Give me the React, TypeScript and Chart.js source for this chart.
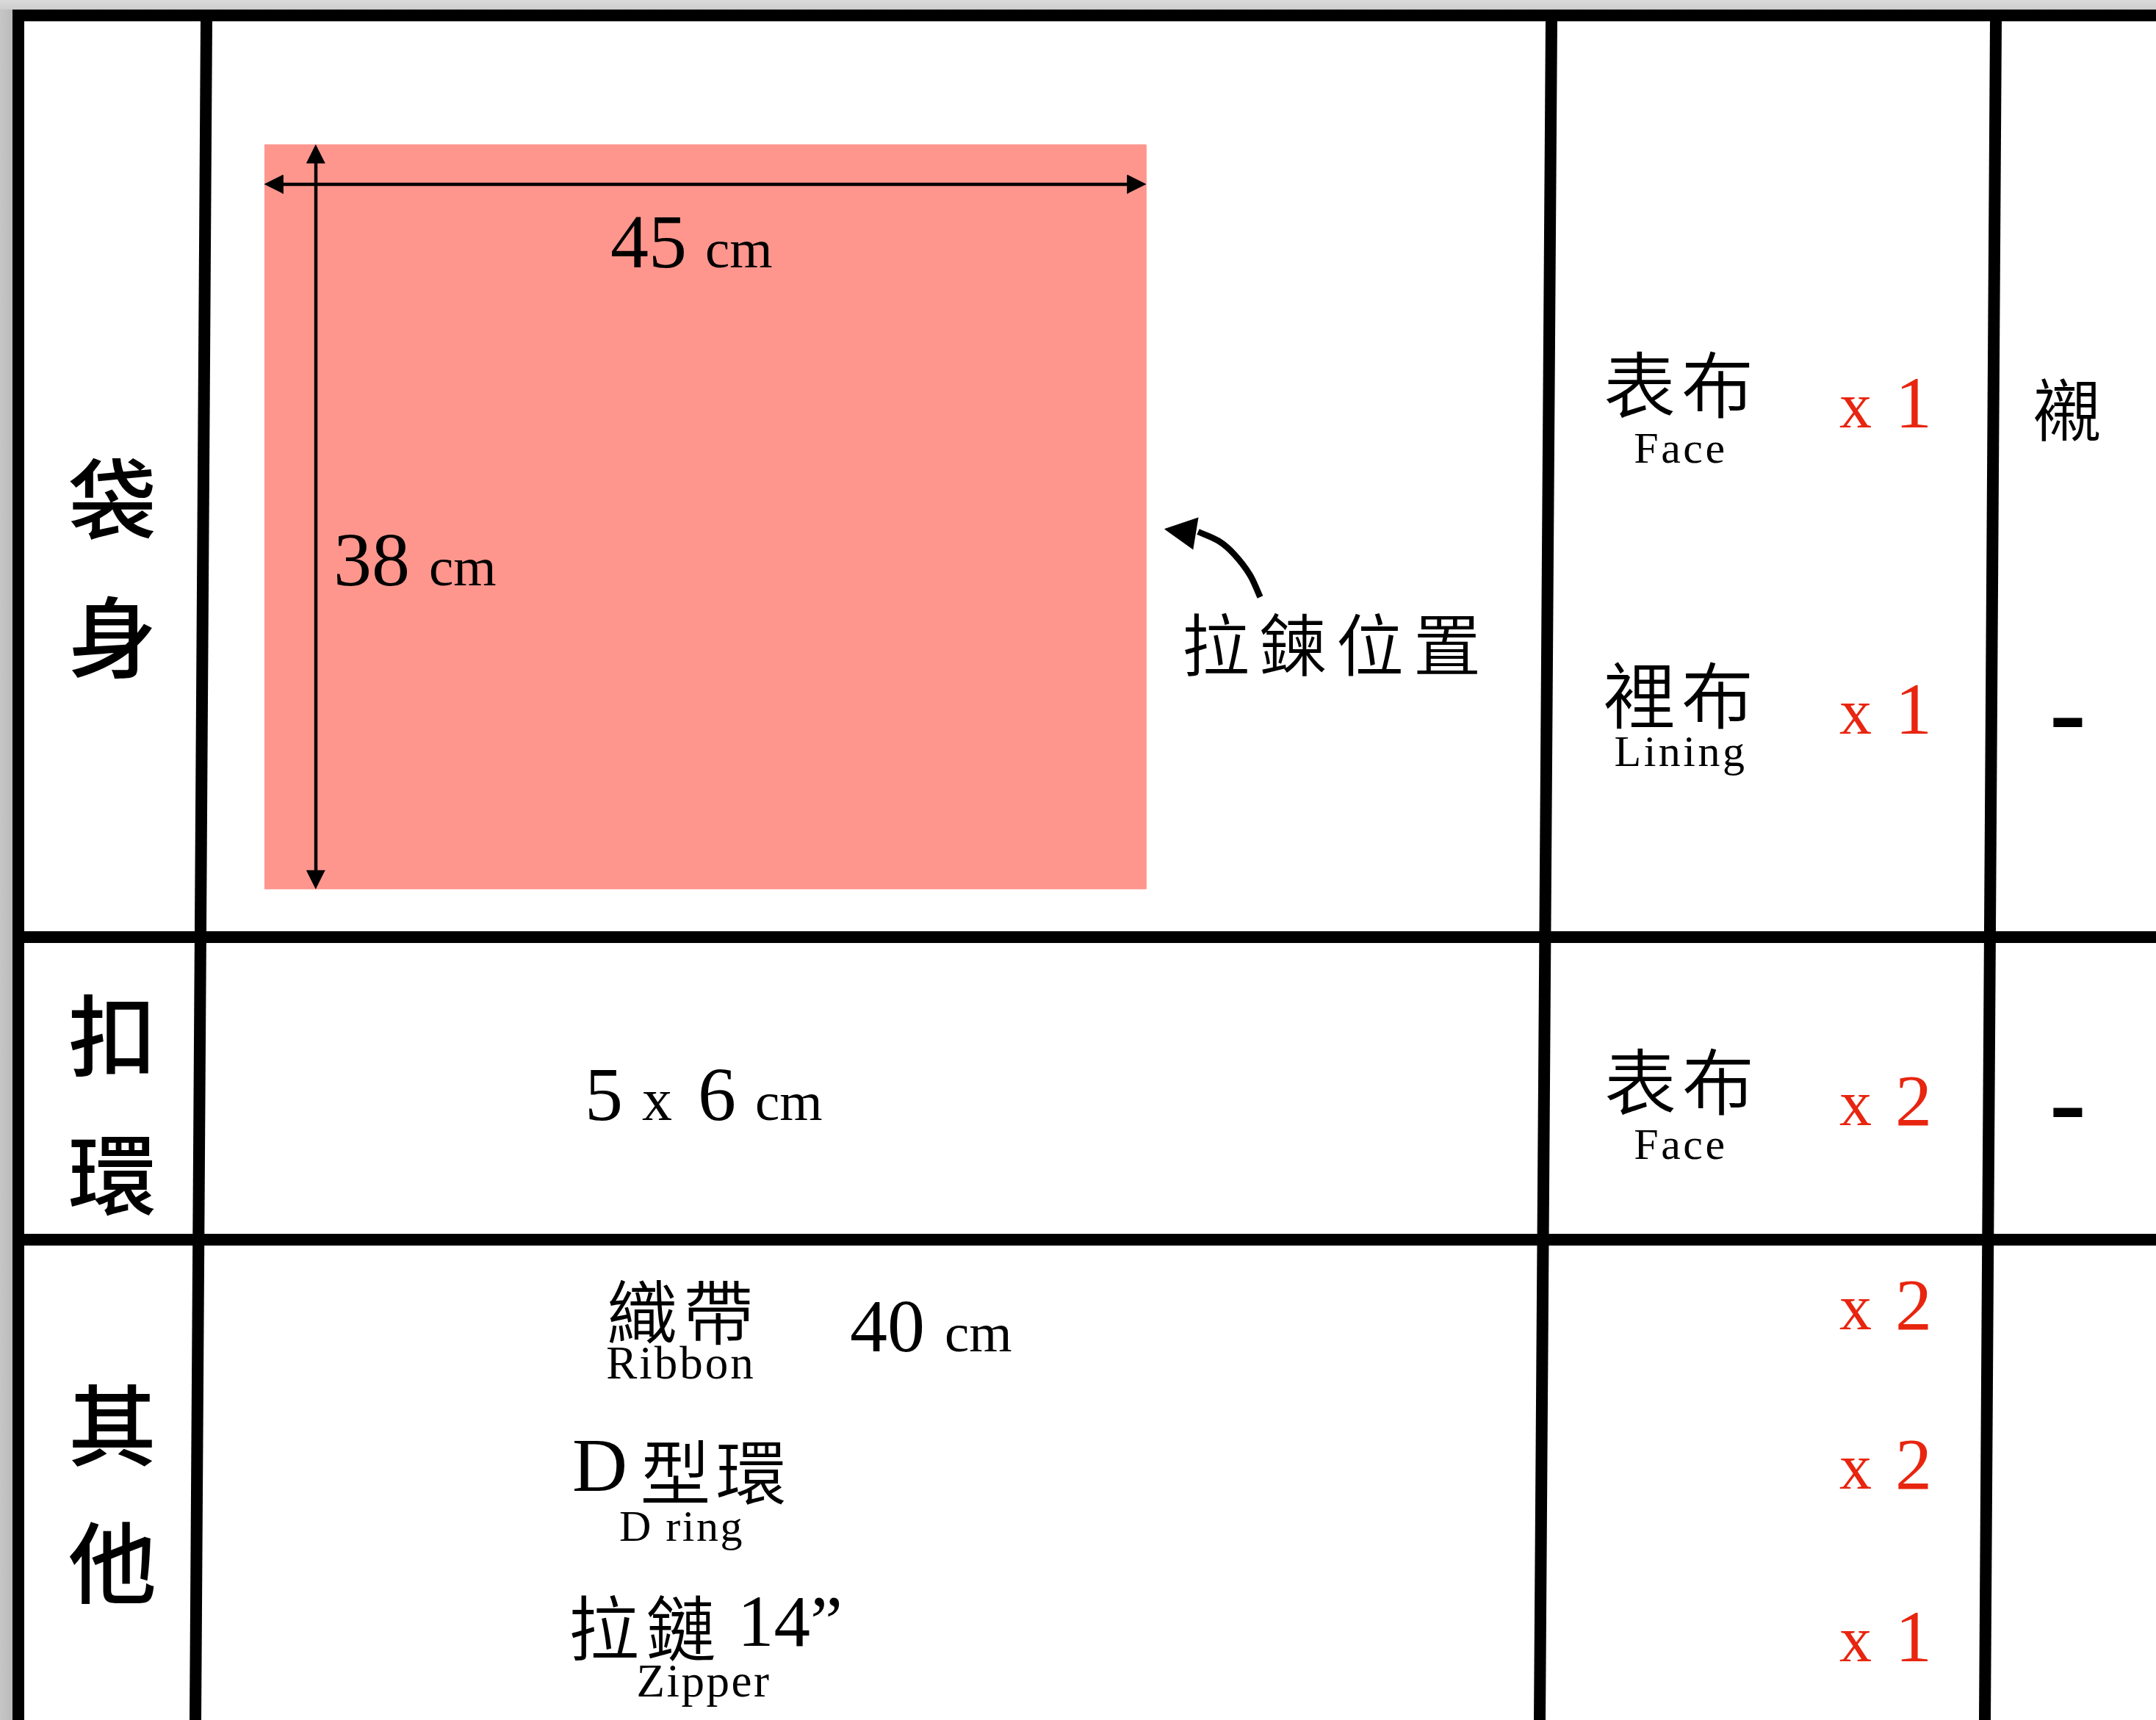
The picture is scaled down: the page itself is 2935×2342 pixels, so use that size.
import React, { useEffect, useRef } from 'react';
import { Chart, registerables } from 'chart.js';

Chart.register(...registerables);

const W = 2935;
const H = 2342;

// ---------------- data ----------------
const sectionNames = ['袋身', '扣環', '其他'];
const bagSizeCm = [45, 38]; // width, height
const tabSizeCm = [5, 6];
const zipperNote = '拉鍊位置';
const fabricNames = ['表布', '裡布', '表布'];
const fabricNamesEn = ['Face', 'Lining', 'Face'];
const fabricCounts = [1, 1, 2];
const interfacingHeader = '襯';
const interfacingMarks = ['-', '-'];
const accessoryNames = ['織帶', 'D型環', '拉鏈'];
const accessoryNamesEn = ['Ribbon', 'D ring', 'Zipper'];
const accessoryCounts = [2, 2, 1];
const ribbonLengthCm = 40;
const zipperLengthIn = 14;

// ---------------- layout / style ----------------
const SERIF = '"Liberation Serif", "Times New Roman", serif';
const CJK = '"Noto Sans CJK TC", "Noto Sans CJK SC", sans-serif';
const SANS = '"Liberation Sans", Arial, sans-serif';
const CJK_WEIGHT = '350';
const LABEL_WEIGHT = '500';
const PINK = '#FE968D';
const RED = '#E8250F';
const FRAME_W = 16;

const frameLines: number[][][] = [
  [[17, 21], [W, 21]],
  [[25, 13], [25, H]],
  [[17, 1276], [W, 1276]],
  [[17, 1688], [W, 1688]],
  [[281, 29], [266, H]],
  [[2112, 29], [2096, H]],
  [[2717, 29], [2702, H]],
];

const rectOrigin = [360, 197];
const pxPerCm = 1200 / 45;
const dimLineY = 251;
const dimLineX = 430;
const headLen = 25;
const headHalf = 12.5;

const curveArrow = [
  [1715.5, 813],
  [1701.5, 782.7],
  [1680, 754.6],
  [1659, 736.7],
  [1631, 724],
];
const curveHead = [
  [1631.4, 705],
  [1585.7, 720.4],
  [1624.3, 748],
];

const sectionLabelX = 153;
const sectionLabelYs = [
  [680, 868],
  [1410, 1600],
  [1941, 2128],
];

const fabricCJKPos = [
  [2285, 524],
  [2285, 947],
  [2286, 1473],
];
const fabricEnBaselines = [630, 1043, 1578];
const countX = 2504;
const countNumX = 2605;
const fabricCountBaselines = [582, 999, 1532];
const accessoryCountBaselines = [1810, 2027, 2262];
const interfacingHeaderPos = [2814, 558];
const interfacingMarkPos = [
  [2815, 984],
  [2815, 1515],
];

type TextItem = {
  kind: 'cjk' | 'latin';
  text: string;
  x: number;
  y: number;
  size: number;
  family?: string;
  color?: string;
  align?: CanvasTextAlign;
  advance?: number;
  spacing?: number;
  weight?: string;
};

function buildTexts(): TextItem[] {
  const t: TextItem[] = [];
  // section labels, one character per line
  sectionNames.forEach((name, i) => {
    [...name].forEach((ch, j) => {
      t.push({
        kind: 'cjk', text: ch, x: sectionLabelX, y: sectionLabelYs[i][j], size: 120, advance: 0, weight: LABEL_WEIGHT,
      });
    });
  });
  // bag body dimensions
  t.push({ kind: 'latin', text: String(bagSizeCm[0]), x: 831, y: 364, size: 104 });
  t.push({ kind: 'latin', text: 'cm', x: 960, y: 364, size: 75 });
  t.push({ kind: 'latin', text: String(bagSizeCm[1]), x: 454, y: 797, size: 104 });
  t.push({ kind: 'latin', text: 'cm', x: 584, y: 797, size: 75 });
  t.push({ kind: 'cjk', text: zipperNote, x: 1812.5, y: 878, size: 92, advance: 105 });
  // tab size
  t.push({ kind: 'latin', text: String(tabSizeCm[0]), x: 796, y: 1525, size: 104 });
  t.push({ kind: 'latin', text: 'x', x: 874, y: 1525, size: 82 });
  t.push({ kind: 'latin', text: String(tabSizeCm[1]), x: 950, y: 1525, size: 104 });
  t.push({ kind: 'latin', text: 'cm', x: 1028, y: 1525, size: 75 });
  // fabrics
  fabricNames.forEach((name, i) => {
    t.push({ kind: 'cjk', text: name, x: fabricCJKPos[i][0], y: fabricCJKPos[i][1], size: 98, advance: 106 });
    t.push({
      kind: 'latin', text: fabricNamesEn[i], x: 2288, y: fabricEnBaselines[i], size: 60, align: 'center', spacing: 3.5,
    });
    t.push({ kind: 'latin', text: 'x', x: countX, y: fabricCountBaselines[i], size: 88, color: RED });
    t.push({
      kind: 'latin', text: String(fabricCounts[i]), x: countNumX, y: fabricCountBaselines[i], size: 100, color: RED, align: 'center',
    });
  });
  t.push({ kind: 'cjk', text: interfacingHeader, x: interfacingHeaderPos[0], y: interfacingHeaderPos[1], size: 92, advance: 0 });
  interfacingMarks.forEach((m, i) => {
    t.push({
      kind: 'latin', text: m, x: interfacingMarkPos[i][0], y: interfacingMarkPos[i][1] + 42, size: 160, family: SANS, align: 'center',
    });
  });
  // accessories
  t.push({ kind: 'cjk', text: accessoryNames[0], x: 926, y: 1787, size: 96, advance: 104 });
  t.push({ kind: 'latin', text: accessoryNamesEn[0], x: 927, y: 1877, size: 63, align: 'center', spacing: 3 });
  t.push({ kind: 'latin', text: String(ribbonLengthCm), x: 1157, y: 1840, size: 102 });
  t.push({ kind: 'latin', text: 'cm', x: 1286, y: 1840, size: 75 });

  const dName = accessoryNames[1];
  t.push({ kind: 'latin', text: dName.slice(0, 1), x: 779, y: 2030, size: 104 });
  t.push({ kind: 'cjk', text: dName.slice(1), x: 971, y: 2005, size: 96, advance: 103 });
  t.push({ kind: 'latin', text: accessoryNamesEn[1], x: 928, y: 2098, size: 60, align: 'center', spacing: 2.5 });

  t.push({ kind: 'cjk', text: accessoryNames[2], x: 874.5, y: 2217, size: 96, advance: 105 });
  t.push({ kind: 'latin', text: `${zipperLengthIn}\u201D`, x: 1004, y: 2241, size: 99 });
  t.push({ kind: 'latin', text: accessoryNamesEn[2], x: 958, y: 2310, size: 63, align: 'center', spacing: 2.5 });

  accessoryCounts.forEach((c, i) => {
    t.push({ kind: 'latin', text: 'x', x: countX, y: accessoryCountBaselines[i], size: 88, color: RED });
    t.push({
      kind: 'latin', text: String(c), x: countNumX, y: accessoryCountBaselines[i], size: 100, color: RED, align: 'center',
    });
  });
  return t;
}

const pts = (arr: number[][]) => arr.map(([x, y]) => ({ x, y }));

function lineDs(arr: number[][], width: number, extra: any = {}) {
  return {
    data: pts(arr),
    borderColor: '#000000',
    backgroundColor: '#000000',
    borderWidth: width,
    pointRadius: 0,
    pointHoverRadius: 0,
    fill: false,
    tension: 0,
    borderCapStyle: 'butt',
    order: 0,
    ...extra,
  };
}

function shapeDs(arr: number[][], color: string, order = 0) {
  return {
    data: pts(arr),
    borderColor: color,
    backgroundColor: color,
    borderWidth: 1,
    pointRadius: 0,
    pointHoverRadius: 0,
    fill: 'shape',
    tension: 0,
    order,
  };
}

function buildDatasets() {
  const [ox, oy] = rectOrigin;
  const x1 = ox + bagSizeCm[0] * pxPerCm;
  const y1 = oy + bagSizeCm[1] * pxPerCm;
  const ds: any[] = [];
  // fabric piece (to scale)
  ds.push(shapeDs([[ox, oy], [x1, oy], [x1, y1], [ox, y1]], PINK, 10));
  // width dimension line with arrowheads
  ds.push(lineDs([[ox + 5, dimLineY], [x1 - 5, dimLineY]], 4.5));
  ds.push(shapeDs([[ox, dimLineY], [ox + headLen, dimLineY - headHalf], [ox + headLen, dimLineY + headHalf]], '#000'));
  ds.push(shapeDs([[x1, dimLineY], [x1 - headLen, dimLineY - headHalf], [x1 - headLen, dimLineY + headHalf]], '#000'));
  // height dimension line with arrowheads
  ds.push(lineDs([[dimLineX, oy + 5], [dimLineX, y1 - 5]], 4.5));
  ds.push(shapeDs([[dimLineX, oy], [dimLineX - headHalf, oy + headLen], [dimLineX + headHalf, oy + headLen]], '#000'));
  ds.push(shapeDs([[dimLineX, y1], [dimLineX - headHalf, y1 - headLen], [dimLineX + headHalf, y1 - headLen]], '#000'));
  // zipper position arrow
  ds.push(lineDs(curveArrow, 8.5, { tension: 0.35, borderCapStyle: 'butt' }));
  ds.push(shapeDs(curveHead, '#000'));
  // table frame
  frameLines.forEach((l) => ds.push(lineDs(l, FRAME_W, { order: 1 })));
  return ds;
}

const backgroundPlugin = {
  id: 'pageBackground',
  beforeDraw(chart: any) {
    const { ctx } = chart;
    ctx.save();
    ctx.fillStyle = '#ffffff';
    ctx.fillRect(0, 0, W, H);
    const gTop = ctx.createLinearGradient(0, 0, 0, 13);
    gTop.addColorStop(0, '#dadada');
    gTop.addColorStop(1, '#cecece');
    ctx.fillStyle = gTop;
    ctx.fillRect(0, 0, W, 13);
    const gLeft = ctx.createLinearGradient(0, 0, 17, 0);
    gLeft.addColorStop(0, '#c6c6c6');
    gLeft.addColorStop(1, '#bababa');
    ctx.fillStyle = gLeft;
    ctx.fillRect(0, 13, 17, H - 13);
    ctx.restore();
  },
};

const textPlugin = {
  id: 'sewingText',
  afterDatasetsDraw(chart: any) {
    const { ctx } = chart;
    const sx = chart.scales.x;
    const sy = chart.scales.y;
    ctx.save();
    for (const it of buildTexts()) {
      const px = sx.getPixelForValue(it.x);
      const py = sy.getPixelForValue(it.y);
      ctx.fillStyle = it.color || '#000000';
      if (it.kind === 'cjk') {
        ctx.font = `${it.weight || CJK_WEIGHT} ${it.size}px ${it.family || CJK}`;
        ctx.textAlign = 'center';
        ctx.textBaseline = 'alphabetic';
        (ctx as any).letterSpacing = '0px';
        const chars = [...it.text];
        const n = chars.length;
        const adv = it.advance || it.size;
        chars.forEach((ch, i) => {
          ctx.fillText(ch, px + (i - (n - 1) / 2) * adv, py + 0.38 * it.size);
        });
      } else {
        ctx.font = `${it.weight || 'normal'} ${it.size}px ${it.family || SERIF}`;
        ctx.textAlign = it.align || 'left';
        ctx.textBaseline = 'alphabetic';
        (ctx as any).letterSpacing = `${it.spacing || 0}px`;
        ctx.fillText(it.text, px, py);
      }
    }
    ctx.restore();
  },
};

export default function App() {
  const ref = useRef<HTMLCanvasElement | null>(null);

  useEffect(() => {
    const canvas = ref.current;
    if (!canvas) return;
    const chart = new Chart(canvas, {
      type: 'line',
      data: { datasets: buildDatasets() },
      options: {
        animation: false,
        responsive: false,
        maintainAspectRatio: false,
        devicePixelRatio: 1,
        events: [],
        layout: { padding: 0 },
        scales: {
          x: { type: 'linear', min: 0, max: W, display: false },
          y: { type: 'linear', min: 0, max: H, reverse: true, display: false },
        },
        plugins: {
          legend: { display: false },
          tooltip: { enabled: false },
          title: { display: false },
        },
      } as any,
      plugins: [backgroundPlugin, textPlugin],
    });
    let alive = true;
    if ((document as any).fonts && (document as any).fonts.ready) {
      (document as any).fonts.ready.then(() => {
        if (alive) chart.draw();
      });
    }
    return () => {
      alive = false;
      chart.destroy();
    };
  }, []);

  return (
    <div style={{ position: 'absolute', left: 0, top: 0, width: W, height: H, background: '#fff' }}>
      <canvas ref={ref} width={W} height={H} style={{ display: 'block', width: W, height: H }} />
    </div>
  );
}
